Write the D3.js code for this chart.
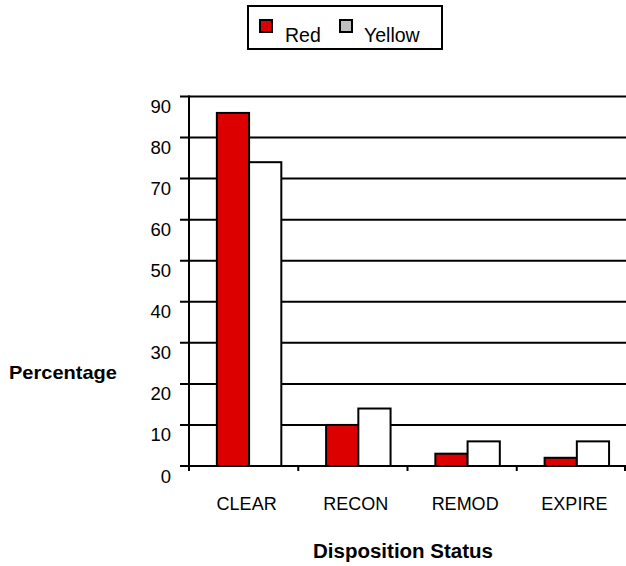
<!DOCTYPE html>
<html>
<head>
<meta charset="utf-8">
<script src="https://cdn.jsdelivr.net/npm/d3@7"></script>
<style>
  html, body { margin: 0; padding: 0; background: #fff; }
  svg { display: block; font-family: "Liberation Sans", Arial, Helvetica, sans-serif; }
</style>
</head>
<body>
<svg id="chart" width="626" height="566"></svg>
<script>
// Disposition status breakdown, percentages per group
const categories = ["CLEAR", "RECON", "REMOD", "EXPIRE"];
const seriesNames = ["Red", "Yellow"];
const redValues = [86, 10, 3, 2];
const yellowValues = [74, 14, 6, 6];
const yTicks = [0, 10, 20, 30, 40, 50, 60, 70, 80, 90];

const barFill = { Red: "#dc0000", Yellow: "#ffffff" };
const swatchFill = { Red: "#dc0000", Yellow: "#c0c0c0" };

const svg = d3.select("#chart");

const plot = { left: 189, right: 626, top: 96.5, bottom: 466 };

const x = d3.scaleBand().domain(categories).range([plot.left, plot.right]).padding(0);
const y = d3.scaleLinear().domain([0, 90]).range([plot.bottom, plot.top]);

const bw = x.bandwidth();
const inner = d3.scaleBand().domain(seriesNames).range([0.255 * bw, 0.845 * bw]).padding(0);

// Horizontal grid lines (with left tick extension)
svg.append("g")
  .selectAll("line")
  .data(yTicks)
  .join("line")
  .attr("x1", plot.left - 9)
  .attr("x2", plot.right)
  .attr("y1", d => y(d))
  .attr("y2", d => y(d))
  .attr("stroke", "#000")
  .attr("stroke-width", 2);

// Y tick labels
svg.append("g")
  .selectAll("text")
  .data(yTicks)
  .join("text")
  .attr("x", 171)
  .attr("y", d => y(d) + 16.5)
  .attr("text-anchor", "end")
  .attr("font-size", 18.5)
  .attr("fill", "#000")
  .text(d => d);

// Bars
const rows = categories.map((c, i) => ({ cat: c, vals: [
  { name: "Red", v: redValues[i] },
  { name: "Yellow", v: yellowValues[i] }
]}));

const groups = svg.append("g")
  .selectAll("g")
  .data(rows)
  .join("g")
  .attr("transform", d => `translate(${x(d.cat)},0)`);

groups.selectAll("rect")
  .data(d => d.vals)
  .join("rect")
  .attr("x", d => inner(d.name))
  .attr("width", inner.bandwidth())
  .attr("y", d => y(d.v))
  .attr("height", d => y(0) - y(d.v))
  .attr("fill", d => barFill[d.name])
  .attr("stroke", "#000")
  .attr("stroke-width", 2);

// Y axis line
svg.append("line")
  .attr("x1", plot.left).attr("x2", plot.left)
  .attr("y1", plot.top - 1).attr("y2", plot.bottom + 5)
  .attr("stroke", "#000").attr("stroke-width", 2);

// X axis line and category boundary ticks
svg.append("line")
  .attr("x1", plot.left).attr("x2", plot.right)
  .attr("y1", plot.bottom).attr("y2", plot.bottom)
  .attr("stroke", "#000").attr("stroke-width", 2);

const boundaries = categories.map(c => x(c)).concat([plot.right - 1]);
svg.append("g")
  .selectAll("line")
  .data(boundaries)
  .join("line")
  .attr("x1", d => d).attr("x2", d => d)
  .attr("y1", plot.bottom).attr("y2", plot.bottom + 5)
  .attr("stroke", "#000").attr("stroke-width", 2);

// Category labels
svg.append("g")
  .selectAll("text")
  .data(categories)
  .join("text")
  .attr("x", d => x(d) + bw / 2 + 3)
  .attr("y", 510)
  .attr("text-anchor", "middle")
  .attr("font-size", 18)
  .attr("fill", "#000")
  .text(d => d);

// Axis titles
svg.append("text")
  .attr("x", 9).attr("y", 379)
  .attr("font-size", 19)
  .attr("font-weight", "bold")
  .attr("textLength", 108)
  .attr("lengthAdjust", "spacingAndGlyphs")
  .text("Percentage");

svg.append("text")
  .attr("x", 313).attr("y", 558)
  .attr("font-size", 20)
  .attr("font-weight", "bold")
  .attr("textLength", 180)
  .attr("lengthAdjust", "spacingAndGlyphs")
  .text("Disposition Status");

// Legend
const legend = svg.append("g");
legend.append("rect")
  .attr("x", 248).attr("y", 6)
  .attr("width", 194).attr("height", 43)
  .attr("fill", "#fff").attr("stroke", "#000").attr("stroke-width", 2);

const legendItems = [
  { name: "Red", sx: 260, tx: 285 },
  { name: "Yellow", sx: 340, tx: 364 }
];
legendItems.forEach(it => {
  legend.append("rect")
    .attr("x", it.sx).attr("y", 20)
    .attr("width", 12).attr("height", 12)
    .attr("fill", swatchFill[it.name])
    .attr("stroke", "#000").attr("stroke-width", 2);
  legend.append("text")
    .attr("x", it.tx).attr("y", 42)
    .attr("font-size", 19.5)
    .attr("fill", "#000")
    .text(it.name);
});
</script>
</body>
</html>
